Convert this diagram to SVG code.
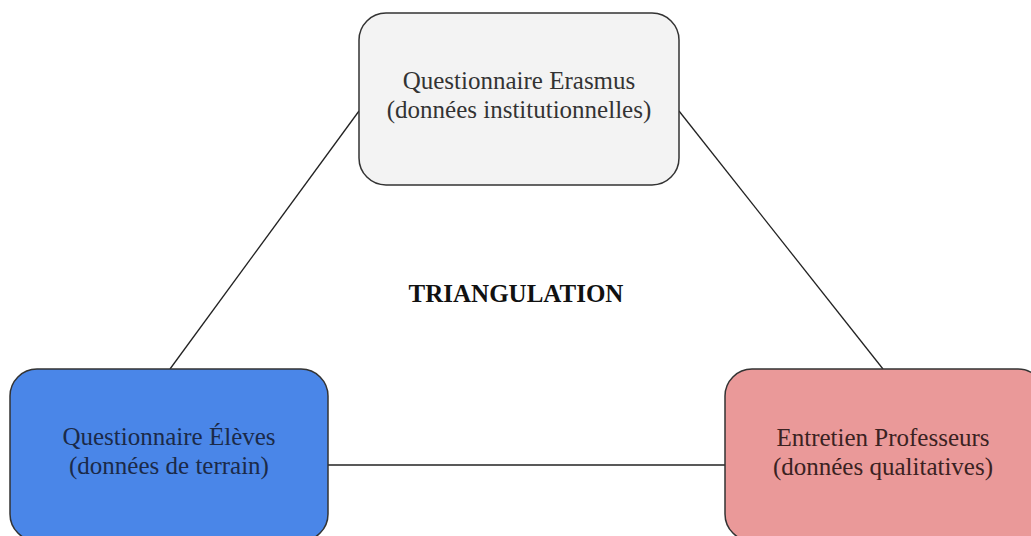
<svg xmlns="http://www.w3.org/2000/svg" width="1031" height="536" viewBox="0 0 1031 536">
<style>
.box{stroke:#333;stroke-width:1.5}
.t{font-family:"Liberation Serif","Times New Roman",serif;font-size:25px;text-anchor:middle}
.c{stroke:#222;stroke-width:1.3;fill:none}
</style>
<rect width="1031" height="536" fill="#fff"/>
<g id="connectors">
<line class="c" x1="359" y1="111" x2="170" y2="369"/>
<line class="c" x1="679" y1="111" x2="883" y2="369"/>
<line class="c" x1="328" y1="465" x2="725" y2="465"/>
</g>
<g id="node-erasmus">
<rect class="box" x="359" y="13" width="320" height="172" rx="27" fill="#f3f3f3"/>
<text class="t" x="519" y="89" fill="#333">Questionnaire Erasmus</text>
<text class="t" x="519" y="118" fill="#333">(données institutionnelles)</text>
</g>
<g id="node-eleves">
<rect class="box" x="10" y="369" width="318" height="172" rx="27" fill="#4a86e8"/>
<text class="t" x="169" y="445" fill="#1b2a48">Questionnaire Élèves</text>
<text class="t" x="169" y="474" fill="#1b2a48">(données de terrain)</text>
</g>
<g id="node-professeurs">
<rect class="box" x="725" y="369" width="320" height="172" rx="27" fill="#ea9999"/>
<text class="t" x="883" y="446" fill="#3a2222">Entretien Professeurs</text>
<text class="t" x="883" y="475" fill="#3a2222">(données qualitatives)</text>
</g>
<g id="label-triangulation">
<text class="t" x="516" y="302" font-weight="bold" fill="#111">TRIANGULATION</text>
</g>
</svg>
